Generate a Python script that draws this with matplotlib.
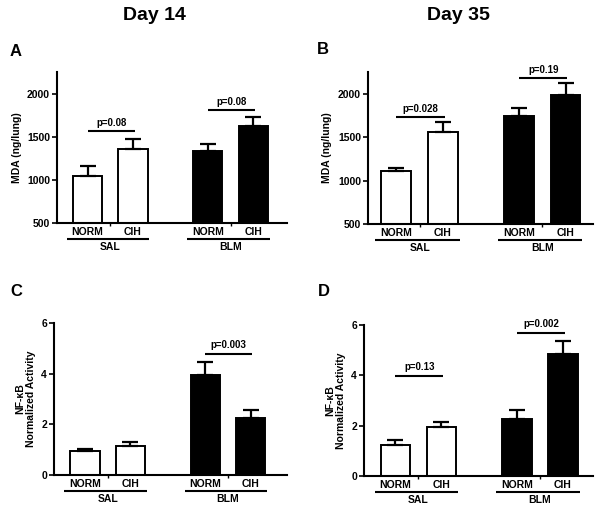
import matplotlib
matplotlib.use("Agg")
import matplotlib.pyplot as plt
import matplotlib.transforms as mtransforms

plt.rcParams['font.family'] = ['Liberation Sans', 'DejaVu Sans']
plt.rcParams['font.weight'] = 'bold'

# ---- data ----
conditions = ["NORM", "CIH", "NORM", "CIH"]
groups = ["SAL", "BLM"]
titles = ["Day 14", "Day 35"]

A_mean = [1050, 1360, 1335, 1620]
A_err = [110, 108, 80, 108]
B_mean = [1110, 1555, 1742, 1982]
B_err = [40, 122, 88, 137]
C_mean = [0.95, 1.16, 3.95, 2.24]
C_err = [0.09, 0.16, 0.53, 0.34]
D_mean = [1.22, 1.96, 2.26, 4.85]
D_err = [0.20, 0.19, 0.36, 0.52]

# p-value annotations: (group index, label, height)
A_p = [(0, "p=0.08", 1565), (1, "p=0.08", 1804)]
B_p = [(0, "p=0.028", 1731), (1, "p=0.19", 2177)]
C_p = [(1, "p=0.003", 4.78)]
D_p = [(0, "p=0.13", 3.98), (1, "p=0.002", 5.69)]

mda_ticks = [500, 1000, 1500, 2000]
nfkb_ticks = [0, 2, 4, 6]

W, H = 604, 514
fig = plt.figure(figsize=(W / 100, H / 100), dpi=100)

def rect(l, r, t, b):
    return [l / W, 1 - b / H, (r - l) / W, (b - t) / H]

pos = [0, 1, 2.64, 3.64]
bw = 0.64
colors = ["white", "white", "black", "black"]

panels = [
    dict(r=rect(57, 287, 72, 223), xl=(-0.67, 4.38), m=A_mean, e=A_err, p=A_p,
         yl=(500, 2250), yt=mda_ticks, ylab="MDA (ng/lung)", letter="A", lx=10, ly=51),
    dict(r=rect(368, 593, 72, 224), xl=(-0.61, 4.23), m=B_mean, e=B_err, p=B_p,
         yl=(500, 2250), yt=mda_ticks, ylab="MDA (ng/lung)", letter="B", lx=317, ly=50),
    dict(r=rect(54, 287, 323, 475), xl=(-0.68, 4.44), m=C_mean, e=C_err, p=C_p,
         yl=(0, 6), yt=nfkb_ticks, ylab="NF-\u03baB\nNormalized Activity", letter="C", lx=10, ly=291),
    dict(r=rect(364, 593, 325, 476), xl=(-0.68, 4.29), m=D_mean, e=D_err, p=D_p,
         yl=(0, 6), yt=nfkb_ticks, ylab="NF-\u03baB\nNormalized Activity", letter="D", lx=318, ly=291),
]

for P in panels:
    ax = fig.add_axes(P["r"])
    ax.bar(pos, P["m"], width=bw, color=colors, edgecolor="black", linewidth=1.4,
           bottom=0 if P["yl"][0] == 0 else 0, zorder=2)
    ax.errorbar(pos, P["m"], yerr=[[0] * 4, P["e"]], fmt="none", ecolor="black",
                elinewidth=1.6, capsize=5.5, capthick=1.6, zorder=3)
    ax.set_xlim(*P["xl"])
    ax.set_ylim(*P["yl"])
    ax.set_yticks(P["yt"])
    ax.set_yticklabels([str(t) for t in P["yt"]], fontsize=7.5, fontweight="bold")
    ax.spines["top"].set_visible(False)
    ax.spines["right"].set_visible(False)
    ax.spines["left"].set_linewidth(1.5)
    ax.spines["bottom"].set_linewidth(1.5)
    ax.tick_params(axis="y", length=3.5, width=1.2, pad=1.5)
    gc = [(pos[0] + pos[1]) / 2, (pos[2] + pos[3]) / 2]
    ax.set_xticks(gc)
    ax.set_xticklabels([])
    ax.tick_params(axis="x", length=2.5, width=1.0)
    ax.set_ylabel(P["ylab"], fontsize=7.5, fontweight="bold", labelpad=4,
                  linespacing=1.1)

    trans = mtransforms.blended_transform_factory(ax.transData, ax.transAxes)
    ax_h_pt = P["r"][3] * H * 0.72  # axes height in points
    for i, c in enumerate(conditions):
        ax.annotate(c, xy=(pos[i], 0), xycoords=trans, xytext=(0, -6.5),
                    textcoords="offset points", ha="center", va="center",
                    fontsize=7.5, fontweight="bold", annotation_clip=False)
    for g, name in enumerate(groups):
        x0 = pos[2 * g] - 0.45
        x1 = pos[2 * g + 1] + 0.36
        yline = -11.5 / ax_h_pt
        ax.plot([x0, x1], [yline, yline], transform=trans, color="black",
                linewidth=1.5, clip_on=False, solid_capstyle="butt")
        ax.annotate(name, xy=(gc[g], 0), xycoords=trans, xytext=(0, -17.5),
                    textcoords="offset points", ha="center", va="center",
                    fontsize=7.5, fontweight="bold", annotation_clip=False)

    for g, lab, yv in P["p"]:
        x0 = pos[2 * g]
        x1 = pos[2 * g + 1] + 0.04
        ax.plot([x0, x1], [yv, yv], color="black", linewidth=1.5, clip_on=False,
                solid_capstyle="butt")
        ax.annotate(lab, xy=((x0 + x1) / 2, yv), xytext=(0, 2.5),
                    textcoords="offset points", ha="center", va="bottom",
                    fontsize=7, fontweight="bold", annotation_clip=False)

    fig.text(P["lx"] / W, 1 - P["ly"] / H, P["letter"], fontsize=12,
             fontweight="bold", ha="left", va="center")

fig.text(154 / W, 1 - 16 / H, titles[0], fontsize=14, fontweight="bold",
         ha="center", va="center")
fig.text(458 / W, 1 - 16 / H, titles[1], fontsize=14, fontweight="bold",
         ha="center", va="center")

fig.savefig("out.png", dpi=100, facecolor="white")
